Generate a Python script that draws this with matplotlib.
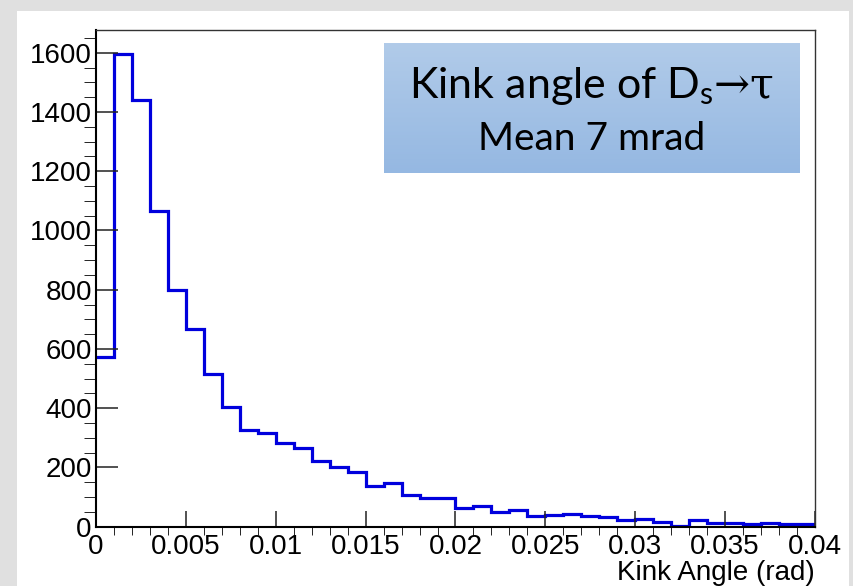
import matplotlib.pyplot as plt
import matplotlib
import numpy as np
from matplotlib.ticker import MultipleLocator, FixedLocator, FixedFormatter

matplotlib.rcParams['font.family'] = ['Liberation Sans', 'DejaVu Sans']
matplotlib.rcParams['mathtext.fontset'] = 'custom'
matplotlib.rcParams['mathtext.rm'] = 'Lato'
matplotlib.rcParams['mathtext.it'] = 'Lato:italic'
matplotlib.rcParams['mathtext.sf'] = 'DejaVu Serif'

# kink angle histogram, 40 bins of 1 mrad between 0 and 0.04 rad
bin_lo = 0.0
bin_hi = 0.04
counts = [573, 1597, 1441, 1067, 798, 666, 515, 405, 326, 315,
          283, 265, 223, 200, 184, 137, 146, 106, 98, 98,
          62, 70, 51, 56, 36, 39, 43, 36, 33, 23,
          27, 17, 3, 21, 13, 13, 9, 12, 8, 8]
xticks = [0, 0.005, 0.01, 0.015, 0.02, 0.025, 0.03, 0.035, 0.04]
xtick_labels = ['0', '0.005', '0.01', '0.015', '0.02', '0.025', '0.03', '0.035', '0.04']
yticks = [0, 200, 400, 600, 800, 1000, 1200, 1400, 1600]

edges = np.linspace(bin_lo, bin_hi, len(counts) + 1)

fig = plt.figure(figsize=(8.54, 5.86), dpi=100, facecolor='#e0e0e0')
# white canvas
fig.patches.append(plt.Rectangle((17/854, 0), (849-17)/854, 1-11/586, transform=fig.transFigure,
                                 facecolor='white', edgecolor='none', zorder=-10))

ax = fig.add_axes([96/854, 1-526.7/586, (815-96)/854, (526.7-30)/586])
ax.stairs(counts, edges, baseline=None, color='#0000dd', linewidth=2.3)
ax.set_xlim(bin_lo, bin_hi)
ax.set_ylim(0, max(counts)*1.05)

ax.xaxis.set_major_locator(FixedLocator(xticks))
ax.xaxis.set_major_formatter(FixedFormatter(xtick_labels))
ax.xaxis.set_minor_locator(MultipleLocator(0.001))
ax.yaxis.set_major_locator(FixedLocator(yticks))
ax.yaxis.set_minor_locator(MultipleLocator(50))
ax.tick_params(direction='in', top=False, right=False, labelsize=20, width=1.1, color='#222222')
ax.tick_params(axis='x', which='major', length=11.5, pad=5)
ax.tick_params(axis='x', which='minor', length=5.8)
ax.tick_params(axis='y', which='major', length=16, pad=3)
ax.tick_params(axis='y', which='minor', length=8.6)
for s in ['left', 'bottom']:
    ax.spines[s].set_linewidth(1.5)
for s in ['top', 'right']:
    ax.spines[s].set_linewidth(1.0)
    ax.spines[s].set_color('#333333')
ax.set_xlabel('Kink Angle (rad)', loc='right', fontsize=20, labelpad=0)

# gradient label box
bx = fig.add_axes([384/854, 1-172.7/586, (800-384)/854, (172.7-43)/586])
grad = np.linspace(0, 1, 100)[:, None, None]
top_c = np.array([177, 203, 233]) / 255
bot_c = np.array([149, 184, 226]) / 255
bx.imshow(top_c*(1-grad) + bot_c*grad, aspect='auto', extent=[0, 1, 0, 1])
bx.set_axis_off()
bx.text(0.5, 0.576, r'Kink angle of D$_{\mathrm{s}}\mathsf{→τ}$', ha='center', va='baseline',
        fontsize=31, family='Lato', transform=bx.transAxes)
bx.text(0.5, 0.175, 'Mean 7 mrad', ha='center', va='baseline',
        fontsize=28, family='Lato', transform=bx.transAxes)

plt.savefig('out.png', dpi=100, facecolor=fig.get_facecolor())
